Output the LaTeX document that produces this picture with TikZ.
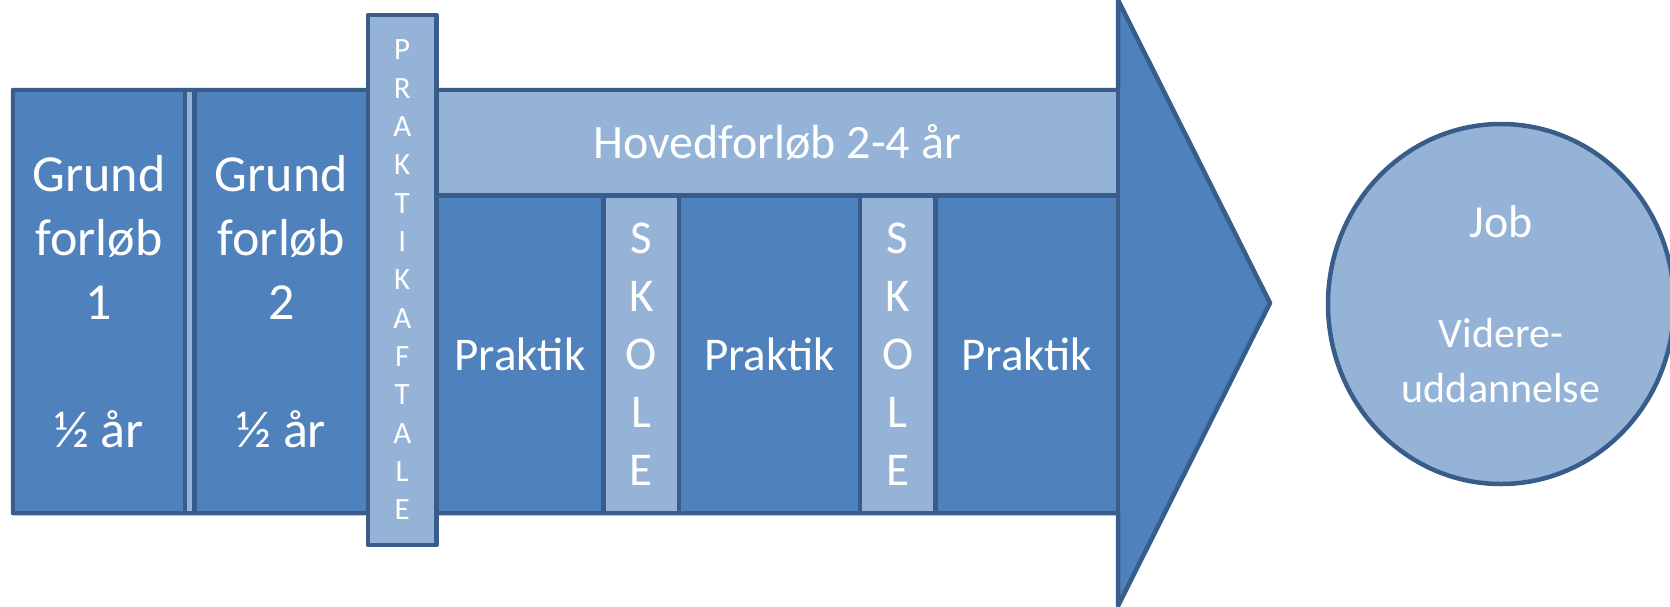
\documentclass[tikz,border=0pt]{standalone}
\usepackage{fontspec}
\setmainfont{Carlito}
\usetikzlibrary{shapes.geometric}
\definecolor{darkfill}{HTML}{4F81BD}
\definecolor{lightfill}{HTML}{95B3D7}
\definecolor{edgeblue}{HTML}{385D8A}
\tikzset{
  box/.style={draw=edgeblue, line width=4.5pt, line join=round, rectangle, inner sep=0pt, text=white, align=center},
  dk/.style={box, fill=darkfill},
  lt/.style={box, fill=lightfill},
  bigtxt/.style={font=\fontsize{47}{58}\selectfont},
  grundtxt/.style={font=\fontsize{52}{64}\selectfont},
}
\begin{document}
\begin{tikzpicture}[x=1pt,y=-1pt]
\useasboundingbox (0,0) rectangle (1670,606);
% arrow
\draw[draw=edgeblue, fill=darkfill, line width=4.5pt, line join=round]
  (13,90) -- (1118,90) -- (1118,0) -- (1270,303) -- (1118,606) -- (1118,513) -- (13,513) -- cycle;
% grundforloeb
\node[dk, grundtxt, minimum width=172pt, minimum height=423pt] (g1) at (99,301.5)
  {Grund\\forløb\\1\\[64pt]½ år};
\node[lt, minimum width=9.5pt, minimum height=423pt] (strip) at (189.75,301.5) {};
\node[dk, grundtxt, minimum width=173.5pt, minimum height=423pt] (g2) at (281.25,301.5)
  {Grund\\forløb\\2\\[64pt]½ år};
% hovedforloeb
\node[lt, font=\fontsize{48}{58}\selectfont, minimum width=681.5pt, minimum height=105.5pt] (hv) at (777.25,142.75) {Hovedforløb 2-4 år};
\node[dk, bigtxt, minimum width=167pt, minimum height=317.5pt] (p1) at (520,354.25) {Praktik};
\node[lt, bigtxt, minimum width=75.5pt, minimum height=317.5pt] (s1) at (641.25,354.25) {S\\K\\O\\L\\E};
\node[dk, bigtxt, minimum width=181pt, minimum height=317.5pt] (p2) at (769.5,354.25) {Praktik};
\node[lt, bigtxt, minimum width=75.5pt, minimum height=317.5pt] (s2) at (897.75,354.25) {S\\K\\O\\L\\E};
\node[dk, bigtxt, minimum width=182.5pt, minimum height=317.5pt] (p3) at (1026.75,354.25) {Praktik};
% praktikaftale
\node[lt, minimum width=68.5pt, minimum height=530pt, font=\fontsize{31}{38.33}\selectfont] (pa) at (402.25,280)
  {P\\R\\A\\K\\T\\I\\K\\A\\F\\T\\A\\L\\E};
% job circle
\node[draw=edgeblue, fill=lightfill, line width=4.5pt, ellipse, minimum width=346pt, minimum height=360pt,
  inner sep=0pt, text=white, align=center, font=\fontsize{42}{55}\selectfont] (job) at (1501,304)
  {{\fontsize{46}{55}\selectfont Job}\\[55pt]Videre-\\uddannelse};
\end{tikzpicture}
\end{document}
